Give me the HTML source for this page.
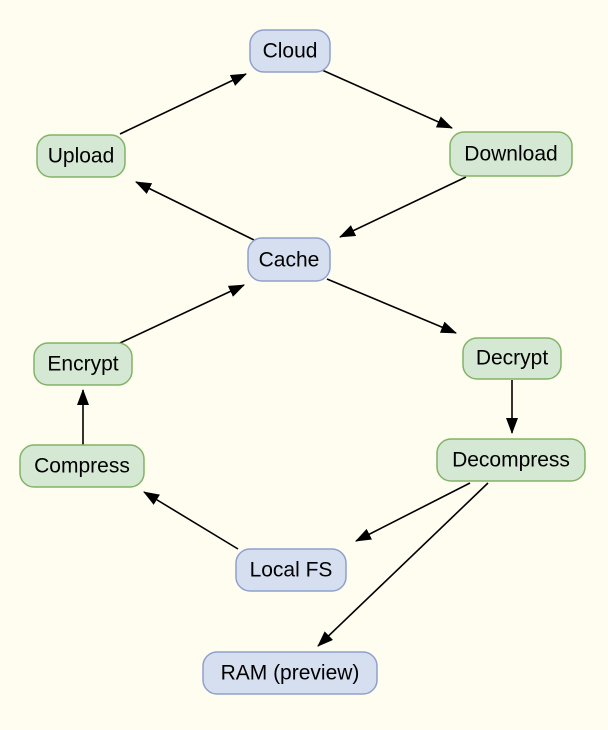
<!DOCTYPE html>
<html><head><meta charset="utf-8">
<style>
html,body{margin:0;padding:0;background:#fffdf0;}
svg{display:block;}
text{font-family:"Liberation Sans",sans-serif;font-size:21px;fill:#000;text-anchor:middle;dominant-baseline:central;}
.b{fill:#d6dff0;stroke:#8fa0cc;stroke-width:1.5;}
.g{fill:#d5e8d4;stroke:#82b366;stroke-width:1.5;}
line{stroke:#000;stroke-width:1.6;marker-end:url(#a);}
</style></head><body>
<svg width="608" height="730" viewBox="0 0 608 730">
<defs><marker id="a" markerWidth="16" markerHeight="12" refX="15" refY="6" orient="auto" markerUnits="userSpaceOnUse"><path d="M0,0 L16,6 L0,12 z" fill="#000"/></marker></defs>
<rect width="608" height="730" fill="#fffdf0"/>
<line x1="120" y1="134" x2="246" y2="74"/>
<line x1="322" y1="70" x2="452" y2="128"/>
<line x1="466" y1="177" x2="340" y2="237"/>
<line x1="254" y1="240" x2="136" y2="182"/>
<line x1="327" y1="279" x2="456" y2="333"/>
<line x1="120" y1="343" x2="244" y2="285"/>
<line x1="512" y1="380" x2="512" y2="433"/>
<line x1="83" y1="445" x2="83" y2="390"/>
<line x1="470" y1="483" x2="356" y2="541"/>
<line x1="488" y1="483" x2="318" y2="646"/>
<line x1="238" y1="549" x2="144" y2="492"/>
<rect class="b" x="250" y="30" width="80" height="42" rx="14"/><text x="290" y="51">Cloud</text>
<rect class="g" x="37" y="135" width="88" height="42" rx="14"/><text x="81" y="156">Upload</text>
<rect class="g" x="450" y="132" width="122" height="44" rx="14"/><text x="511" y="154">Download</text>
<rect class="b" x="248" y="238" width="82" height="43" rx="14"/><text x="289" y="260">Cache</text>
<rect class="g" x="34" y="343" width="98" height="42" rx="14"/><text x="83" y="364">Encrypt</text>
<rect class="g" x="463" y="338" width="98" height="41" rx="14"/><text x="512" y="358">Decrypt</text>
<rect class="g" x="20" y="445" width="124" height="42" rx="14"/><text x="82" y="466">Compress</text>
<rect class="g" x="437" y="439" width="148" height="42" rx="14"/><text x="511" y="460">Decompress</text>
<rect class="b" x="236" y="549" width="110" height="42" rx="14"/><text x="291" y="570">Local FS</text>
<rect class="b" x="203" y="652" width="174" height="42" rx="14"/><text x="290" y="673">RAM (preview)</text>
</svg>
</body></html>
